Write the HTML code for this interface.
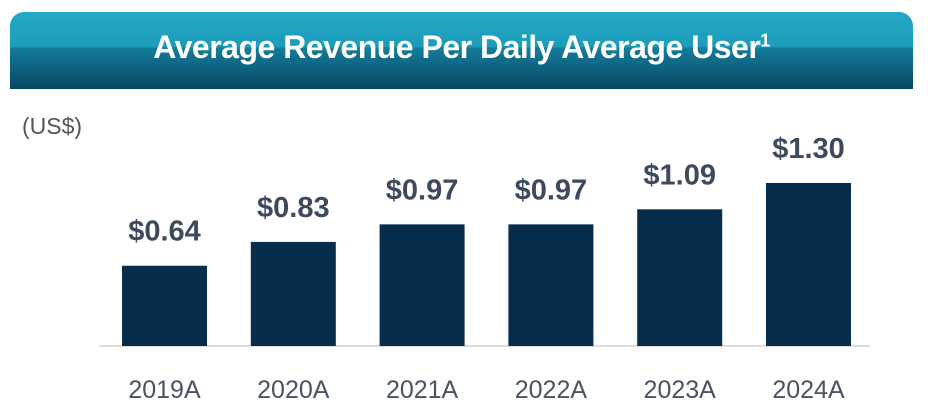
<!DOCTYPE html>
<html><head><meta charset="utf-8"><style>
body{margin:0;width:948px;height:415px;background:#fff;overflow:hidden;font-family:"Liberation Sans",sans-serif}
#hdr{position:absolute;left:10px;top:12px;width:903px;height:77px;border-radius:14px 14px 0 0;
background:linear-gradient(#23a8c6 0%,#1d9cba 45%,#137c9a 47%,#0e6583 70%,#084760 100%)}
#hdr span{position:absolute;left:0;right:0;top:17px;text-align:center;color:#fff;font-weight:bold;font-size:32px;letter-spacing:-0.5px}
</style></head><body>
<div id="hdr"><span>Average Revenue Per Daily Average User<sup style="font-size:18px">1</sup></span></div>
<svg id="c" width="948" height="415" style="position:absolute;left:0;top:0">
<text x="22" y="134" font-size="23" fill="#555" font-family="Liberation Sans">(US$)</text>
<line x1="99" y1="346" x2="870" y2="346" stroke="#ddd" stroke-width="2"/>
</svg>
<script>
const categories=["2019A","2020A","2021A","2022A","2023A","2024A"];
const values=[0.64,0.83,0.97,0.97,1.09,1.30];
const valueLabels=["$0.64","$0.83","$0.97","$0.97","$1.09","$1.30"];
const svg=document.getElementById('c');const NS='http://www.w3.org/2000/svg';
const base=346,scale=125.4,x0=164.5,step=128.8,bw=85;
const y=v=>base-v*scale;
categories.forEach((c,i)=>{
const cx=x0+i*step;
const r=document.createElementNS(NS,'rect');
r.setAttribute('x',cx-bw/2);r.setAttribute('y',y(values[i]));r.setAttribute('width',bw);r.setAttribute('height',base-y(values[i]));r.setAttribute('fill','#062d4b');


svg.appendChild(r);
const t=document.createElementNS(NS,'text');
t.setAttribute('x',cx);t.setAttribute('y',y(values[i])-25);t.setAttribute('text-anchor','middle');t.setAttribute('font-size','29');t.setAttribute('font-weight','bold');t.setAttribute('fill','#3d4a5e');t.setAttribute('font-family','Liberation Sans');
t.textContent=valueLabels[i];


svg.appendChild(t);
const l=document.createElementNS(NS,'text');
l.setAttribute('x',cx);l.setAttribute('y',398);l.setAttribute('text-anchor','middle');l.setAttribute('font-size','25');l.setAttribute('fill','#4a5365');l.setAttribute('font-family','Liberation Sans');
l.textContent=c;


svg.appendChild(l);
});
</script>
</body></html>
